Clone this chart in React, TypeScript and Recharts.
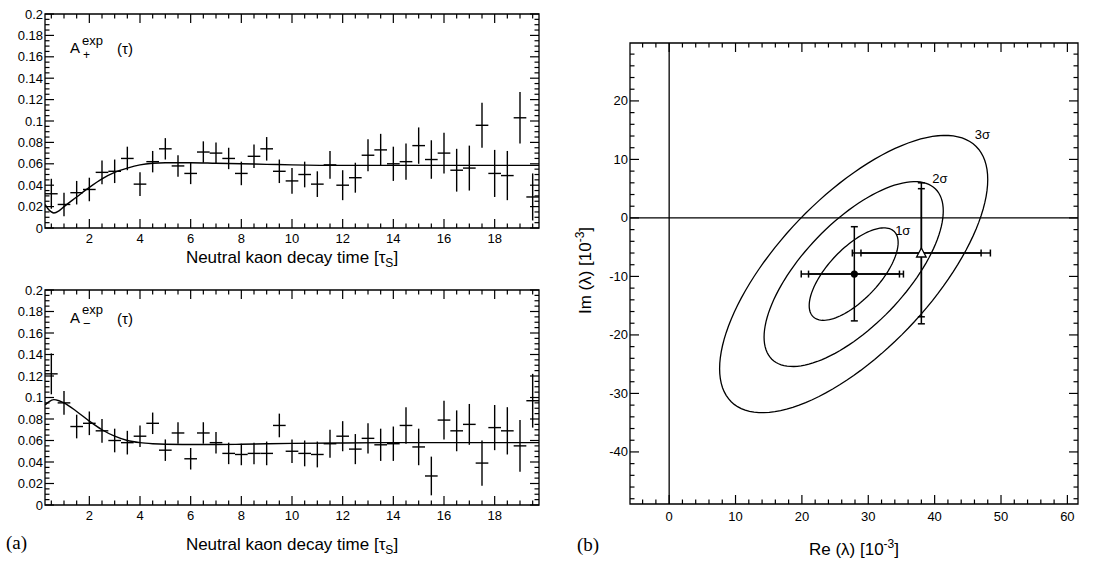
import React from "react";
import {
  ComposedChart,
  Scatter,
  Line,
  XAxis,
  YAxis,
  ErrorBar,
  ReferenceLine,
  ReferenceArea,
  ReferenceDot,
  Label,
} from "recharts";

const SANS = "'Liberation Sans', Arial, Helvetica, sans-serif";
const SERIF = "'Liberation Serif', 'Times New Roman', serif";

// ---- (a) asymmetries per decay-time bin (bins of 0.5 tau_S) ----
const tauBins = [
  0.5, 1, 1.5, 2, 2.5, 3, 3.5, 4, 4.5, 5, 5.5, 6, 6.5, 7, 7.5, 8, 8.5, 9, 9.5, 10,
  10.5, 11, 11.5, 12, 12.5, 13, 13.5, 14, 14.5, 15, 15.5, 16, 16.5, 17, 17.5, 18, 18.5, 19, 19.5,
];
const tauHalfBin = 0.25;

const aPlus = [
  0.032, 0.022, 0.033, 0.036, 0.052, 0.053, 0.065, 0.041, 0.062, 0.074, 0.058, 0.051, 0.071,
  0.07, 0.065, 0.051, 0.067, 0.074, 0.053, 0.044, 0.05, 0.041, 0.059, 0.04, 0.047, 0.068, 0.073,
  0.06, 0.062, 0.077, 0.064, 0.07, 0.054, 0.056, 0.096, 0.051, 0.049, 0.103, 0.029,
];
const aPlusErr = [
  0.014, 0.011, 0.011, 0.011, 0.011, 0.011, 0.011, 0.011, 0.01, 0.01, 0.01, 0.01, 0.01, 0.01,
  0.01, 0.011, 0.011, 0.011, 0.011, 0.012, 0.012, 0.012, 0.013, 0.014, 0.014, 0.015, 0.015,
  0.016, 0.017, 0.017, 0.018, 0.019, 0.02, 0.021, 0.021, 0.022, 0.023, 0.024, 0.022,
];

const aMinus = [
  0.122, 0.095, 0.073, 0.076, 0.069, 0.06, 0.058, 0.064, 0.076, 0.051, 0.067, 0.043, 0.067,
  0.058, 0.048, 0.047, 0.048, 0.048, 0.074, 0.05, 0.048, 0.047, 0.057, 0.064, 0.052, 0.062,
  0.056, 0.057, 0.074, 0.054, 0.027, 0.079, 0.069, 0.075, 0.039, 0.072, 0.069, 0.055, 0.097,
];
const aMinusErr = [
  0.019, 0.011, 0.011, 0.011, 0.011, 0.011, 0.011, 0.01, 0.01, 0.01, 0.01, 0.01, 0.01, 0.01,
  0.01, 0.01, 0.01, 0.011, 0.011, 0.011, 0.012, 0.012, 0.013, 0.014, 0.014, 0.014, 0.015,
  0.016, 0.017, 0.017, 0.018, 0.018, 0.019, 0.019, 0.021, 0.021, 0.022, 0.024, 0.025,
];

// fitted curves
const fitTau = [0.25, 0.4, 0.6, 0.8, 1, 1.5, 2, 2.5, 3, 3.5, 4, 4.5, 5, 6, 7, 8, 9, 10, 12, 14, 16, 18, 19.75];
const fitPlus = [
  0.022, 0.017, 0.014, 0.016, 0.02, 0.029, 0.038, 0.046, 0.052, 0.056, 0.059, 0.0605, 0.061,
  0.061, 0.0605, 0.06, 0.0595, 0.059, 0.0585, 0.0585, 0.0585, 0.0585, 0.0585,
];
const fitMinus = [
  0.093, 0.096, 0.098, 0.097, 0.095, 0.087, 0.078, 0.07, 0.064, 0.06, 0.058, 0.057, 0.0565,
  0.0563, 0.0563, 0.0565, 0.057, 0.0573, 0.0577, 0.058, 0.058, 0.058, 0.058,
];

// axis ticks for (a)
const tauDomain = [0.25, 19.75];
const tauTicks = Array.from({ length: 39 }, (_, i) => 0.5 + i * 0.5);
const asymTicks = Array.from({ length: 41 }, (_, i) => +(i * 0.005).toFixed(3));

// ---- (b) lambda plane ----
const contourNames = ["1σ", "2σ", "3σ"];
const contourCentre = { re: 27.8, im: -9.6 };
const contourHalfRe = [6.7, 13.5, 20.2];
const contourHalfIm = [7.9, 15.8, 23.7];
const contourTiltDeg = 47;
const contourLabelRe = [35.2, 40.8, 47.2];
const contourLabelIm = [-2.1, 6.8, 14.2];

// filled dot (this result) and open triangle (other result)
const dotPoint = { re: 27.9, im: -9.6 };
const dotReErr = [[8.0, 7.4], [6.9, 6.8]];
const dotImErr = [8.0, 8.1];
const triPoint = { re: 38.0, im: -6.0 };
const triReErr = [[10.4, 10.4], [9.1, 9.0]];
const triImErr = [[12.1, 12.0], [10.9, 11.0]];

const reDomain = [-5.9, 61.6];
const imDomain = [-48.9, 29.9];
const reTicks = Array.from({ length: 33 }, (_, i) => -4 + i * 2);
const imTicks = Array.from({ length: 39 }, (_, i) => -48 + i * 2);

// ---- helpers ----
const isMultiple = (v: number, step: number) => Math.abs(v / step - Math.round(v / step)) < 1e-6;
const fmtNum = (v: number) => String(parseFloat(v.toFixed(3)));

function makeBottomTick(majorStep: number, plotTop: number, labelDy: number) {
  return (props: any) => {
    const { x, y, payload } = props;
    const v = Number(payload.value);
    const major = isMultiple(v, majorStep);
    const len = major ? 9 : 4.5;
    return (
      <g>
        <line x1={x} x2={x} y1={y} y2={y - len} stroke="#000" strokeWidth={1.2} />
        <line x1={x} x2={x} y1={plotTop} y2={plotTop + len} stroke="#000" strokeWidth={1.2} />
        {major && (
          <text x={x} y={y + labelDy} textAnchor="middle" fontFamily={SANS} fontSize={13} fill="#000">
            {fmtNum(v)}
          </text>
        )}
      </g>
    );
  };
}

function makeLeftTick(majorStep: number, plotRight: number, skip: number[] = []) {
  return (props: any) => {
    const { x, y, payload } = props;
    const v = Number(payload.value);
    const major = isMultiple(v, majorStep);
    const len = major ? 9 : 4.5;
    return (
      <g>
        <line x1={x} x2={x + len} y1={y} y2={y} stroke="#000" strokeWidth={1.2} />
        <line x1={plotRight} x2={plotRight - len} y1={y} y2={y} stroke="#000" strokeWidth={1.2} />
        {major && !skip.includes(v) && (
          <text x={x - 2} y={y + 4.5} textAnchor="end" fontFamily={SANS} fontSize={13} fill="#000">
            {fmtNum(v)}
          </text>
        )}
      </g>
    );
  };
}

const NoMark = () => <g />;

type PanelProps = {
  values: number[];
  errors: number[];
  fit: number[];
  height: number;
  marginBottom: number;
  titleDy: number;
};

function AsymmetryPanel({ values, errors, fit, height, marginBottom, titleDy }: PanelProps) {
  const width = 560;
  const margin = { top: 14, right: 21, left: 0, bottom: marginBottom };
  const plotRight = width - margin.right;
  const points = tauBins.map((t, i) => ({ x: t, y: values[i], ex: tauHalfBin, ey: errors[i] }));
  const curve = fitTau.map((t, i) => ({ x: t, y: fit[i] }));

  return (
    <ComposedChart width={width} height={height} margin={margin}>
      <XAxis
        type="number"
        dataKey="x"
        domain={tauDomain}
        ticks={tauTicks}
        interval={0}
        allowDataOverflow
        axisLine={false}
        tickLine={false}
        tickSize={0}
        tickMargin={0}
        height={40}
        tick={makeBottomTick(2, margin.top, 15)}
      >
        <Label
          content={(p: any) => {
            const vb = p.viewBox;
            return (
              <text x={vb.x + vb.width / 2} y={vb.y + titleDy} textAnchor="middle" fontFamily={SANS} fontSize={17} fill="#000">
                Neutral kaon decay time [τ
                <tspan dy={4} fontSize={12}>S</tspan>
                <tspan dy={-4}>]</tspan>
              </text>
            );
          }}
        />
      </XAxis>
      <YAxis
        type="number"
        dataKey="y"
        domain={[0, 0.2]}
        ticks={asymTicks}
        interval={0}
        allowDataOverflow
        axisLine={false}
        tickLine={false}
        tickSize={0}
        tickMargin={0}
        width={45}
        tick={makeLeftTick(0.02, plotRight)}
      />
      <ReferenceArea x1={tauDomain[0]} x2={tauDomain[1]} y1={0} y2={0.2} fill="none" stroke="#000" strokeWidth={1.3} />
      <Line data={curve} dataKey="y" type="monotone" stroke="#000" strokeWidth={1.4} dot={false} isAnimationActive={false} />
      <Scatter data={points} dataKey="y" shape={NoMark} isAnimationActive={false}>
        <ErrorBar dataKey="ex" direction="x" width={0} stroke="#000" strokeWidth={1.4} />
        <ErrorBar dataKey="ey" direction="y" width={0} stroke="#000" strokeWidth={1.4} />
      </Scatter>
    </ComposedChart>
  );
}

function LambdaPanel() {
  const width = 540;
  const height = 564;
  const margin = { top: 43, right: 22, left: 0, bottom: 20 };
  const plotRight = width - margin.right;
  const tilt = (contourTiltDeg * Math.PI) / 180;

  const contours = contourHalfRe.map((a, k) => {
    const b = contourHalfIm[k];
    const pts = [];
    for (let deg = 0; deg <= 360; deg += 3) {
      const t = (deg * Math.PI) / 180;
      pts.push({ x: contourCentre.re + a * Math.cos(t), y: contourCentre.im + b * Math.cos(t - tilt) });
    }
    return pts;
  });

  const dotData = [
    {
      x: dotPoint.re,
      y: dotPoint.im,
      exOuter: dotReErr[0],
      exInner: dotReErr[1],
      ey: dotImErr,
    },
  ];
  const triData = [
    {
      x: triPoint.re,
      y: triPoint.im,
      exOuter: triReErr[0],
      exInner: triReErr[1],
      eyOuter: triImErr[0],
      eyInner: triImErr[1],
    },
  ];

  return (
    <ComposedChart width={width} height={height} margin={margin}>
      <XAxis
        type="number"
        dataKey="x"
        domain={reDomain}
        ticks={reTicks}
        interval={0}
        allowDataOverflow
        axisLine={false}
        tickLine={false}
        tickSize={0}
        tickMargin={0}
        height={40}
        tick={makeBottomTick(10, margin.top, 16.5)}
      >
        <Label
          content={(p: any) => {
            const vb = p.viewBox;
            return (
              <text x={vb.x + vb.width / 2} y={vb.y + 51} textAnchor="middle" fontFamily={SANS} fontSize={17} fill="#000">
                Re (λ)  [10
                <tspan dy={-7} fontSize={12}>-3</tspan>
                <tspan dy={7}>]</tspan>
              </text>
            );
          }}
        />
      </XAxis>
      <YAxis
        type="number"
        dataKey="y"
        domain={imDomain}
        ticks={imTicks}
        interval={0}
        allowDataOverflow
        axisLine={false}
        tickLine={false}
        tickSize={0}
        tickMargin={0}
        width={70}
        tick={makeLeftTick(10, plotRight)}
      >
        <Label
          content={(p: any) => {
            const vb = p.viewBox;
            const cx = 31;
            const cy = vb.y + vb.height / 2 - 3;
            return (
              <text x={cx} y={cy} transform={`rotate(-90, ${cx}, ${cy})`} textAnchor="middle" fontFamily={SANS} fontSize={17} fill="#000">
                Im (λ)  [10
                <tspan dy={-7} fontSize={12}>-3</tspan>
                <tspan dy={7}>]</tspan>
              </text>
            );
          }}
        />
      </YAxis>
      <ReferenceArea x1={reDomain[0]} x2={reDomain[1]} y1={imDomain[0]} y2={imDomain[1]} fill="none" stroke="#000" strokeWidth={1.3} />
      <ReferenceLine x={0} stroke="#000" strokeWidth={1.3} />
      <ReferenceLine y={0} stroke="#000" strokeWidth={1.3} />
      {contours.map((pts, k) => (
        <Scatter
          key={contourNames[k]}
          data={pts}
          dataKey="y"
          shape={NoMark}
          line={{ stroke: "#000", strokeWidth: 1.3 }}
          lineType="joint"
          isAnimationActive={false}
        />
      ))}
      {contourNames.map((name, k) => (
        <ReferenceDot
          key={name}
          x={contourLabelRe[k]}
          y={contourLabelIm[k]}
          r={0}
          fill="none"
          stroke="none"
          label={{ value: name, position: "center", fontFamily: SANS, fontSize: 13, fill: "#000" }}
        />
      ))}
      <Scatter
        data={triData}
        dataKey="y"
        isAnimationActive={false}
        shape={(p: any) => (
          <path
            d={`M${p.cx},${p.cy - 5} L${p.cx - 4.8},${p.cy + 4} L${p.cx + 4.8},${p.cy + 4} Z`}
            fill="#fff"
            stroke="#000"
            strokeWidth={1.3}
          />
        )}
      >
        <ErrorBar dataKey="exOuter" direction="x" width={3.5} stroke="#000" strokeWidth={1.5} />
        <ErrorBar dataKey="exInner" direction="x" width={3.5} stroke="#000" strokeWidth={1.5} />
        <ErrorBar dataKey="eyOuter" direction="y" width={3.5} stroke="#000" strokeWidth={1.5} />
        <ErrorBar dataKey="eyInner" direction="y" width={3.5} stroke="#000" strokeWidth={1.5} />
      </Scatter>
      <Scatter
        data={dotData}
        dataKey="y"
        isAnimationActive={false}
        shape={(p: any) => <circle cx={p.cx} cy={p.cy} r={3.6} fill="#000" />}
      >
        <ErrorBar dataKey="exOuter" direction="x" width={3.5} stroke="#000" strokeWidth={1.5} />
        <ErrorBar dataKey="exInner" direction="x" width={3.5} stroke="#000" strokeWidth={1.5} />
        <ErrorBar dataKey="ey" direction="y" width={3.5} stroke="#000" strokeWidth={1.5} />
      </Scatter>
    </ComposedChart>
  );
}

export default function App() {
  return (
    <div style={{ position: "absolute", left: 0, top: 0, width: 1100, height: 564, background: "#fff", overflow: "hidden" }}>
      <div style={{ position: "absolute", left: 0, top: 0 }}>
        <AsymmetryPanel values={aPlus} errors={aPlusErr} fit={fitPlus} height={270} marginBottom={2} titleDy={35} />
      </div>
      <div style={{ position: "absolute", left: 0, top: 276 }}>
        <AsymmetryPanel values={aMinus} errors={aMinusErr} fit={fitMinus} height={288} marginBottom={19} titleDy={45} />
      </div>
      <div style={{ position: "absolute", left: 560, top: 0 }}>
        <LambdaPanel />
      </div>
      <svg width={1100} height={564} style={{ position: "absolute", left: 0, top: 0, pointerEvents: "none" }}>
        <g fontFamily={SANS} fill="#000">
          <text x={70} y={53} fontSize={15}>A</text>
          <text x={82} y={45} fontSize={13}>exp</text>
          <text x={83} y={58.5} fontSize={12}>+</text>
          <text x={117} y={54} fontSize={15}>(τ)</text>
          <text x={70} y={323} fontSize={15}>A</text>
          <text x={82} y={314} fontSize={13}>exp</text>
          <text x={83} y={328} fontSize={13}>−</text>
          <text x={117} y={324} fontSize={15}>(τ)</text>
        </g>
        <g fontFamily={SERIF} fontSize={19} fill="#000">
          <text x={6} y={549}>(a)</text>
          <text x={577} y={551}>(b)</text>
        </g>
      </svg>
    </div>
  );
}
